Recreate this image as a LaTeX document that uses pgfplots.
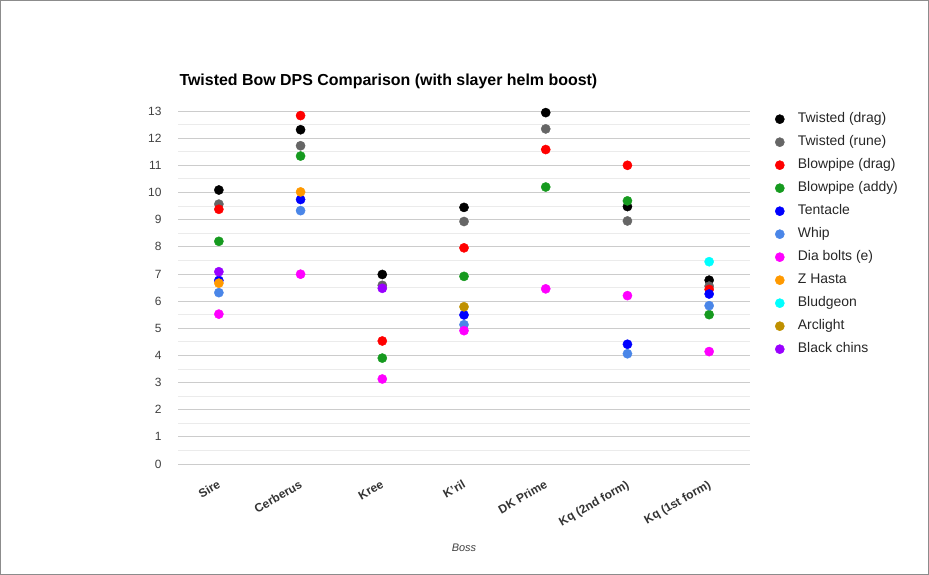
\documentclass[border=0pt]{standalone}
\usepackage{fontspec}
\setmainfont{Liberation Sans}
\usepackage{pgfplots}
\pgfplotsset{compat=1.18}
\definecolor{ctwd}{HTML}{000000}
\definecolor{ctwr}{HTML}{666666}
\definecolor{cbpd}{HTML}{FF0000}
\definecolor{cbpa}{HTML}{169A1F}
\definecolor{ctent}{HTML}{0000FF}
\definecolor{cwhip}{HTML}{4A86E8}
\definecolor{cdia}{HTML}{FF00FF}
\definecolor{czh}{HTML}{FF9900}
\definecolor{cblud}{HTML}{00FFFF}
\definecolor{carc}{HTML}{BF9000}
\definecolor{cchin}{HTML}{9900FF}
\begin{document}
\begin{tikzpicture}[x=1bp,y=1bp]
\path[use as bounding box] (0,0) rectangle (929,575);
\draw[color=black!45, line width=1bp] (0.5,0.5) rectangle (928.5,574.5);
\begin{axis}[
  at={(178bp,111bp)}, anchor=south west,
  scale only axis, width=572bp, height=353bp,
  xmin=-0.5, xmax=6.5, ymin=0, ymax=13,
  xtick={0,1,2,3,4,5,6},
  xticklabels={Sire,Cerberus,Kree,K'ril,DK Prime,Kq (2nd form),Kq (1st form)},
  ytick={0,1,...,13},
  minor y tick num=1,
  ymajorgrids, yminorgrids,
  major grid style={color=black!20, line width=0.8bp},
  minor grid style={color=black!8, line width=0.8bp},
  axis line style={draw=none},
  major tick length=0pt, minor tick length=0pt,
  /pgf/number format/assume math mode=true,
  yticklabel style={font=\fontsize{12}{14}\selectfont, text=black!75, xshift=-13bp},
  xticklabel style={font=\bfseries\fontsize{12}{14}\selectfont, text=black!80, rotate=30, anchor=north east, xshift=-6bp, yshift=-9bp},
  extra y ticks={0}, extra y tick labels={},
  extra y tick style={grid style={color=black!60, line width=1bp}},
  xlabel={Boss},
  xlabel style={font=\itshape\fontsize{11}{13}\selectfont, text=black!75, at={(axis description cs:0.5,0)}, anchor=base, yshift=-88bp},
  title={Twisted Bow DPS Comparison (with slayer helm boost)},
  title style={font=\bfseries\fontsize{16}{18}\selectfont, at={(axis description cs:0,1)}, anchor=base west, xshift=-2bp, yshift=20bp},
  legend style={draw=none, fill=none, at={(axis description cs:1,1)}, anchor=north west, xshift=22bp, yshift=2bp,
    font=\fontsize{14}{16}\selectfont, text=black!85,
    nodes={inner sep=1.5bp, text height=10bp, text depth=3bp}, row sep=7bp, column sep=12bp},
  legend cell align=left,
  legend image code/.code={\draw[#1] plot coordinates {(4bp,0bp)};},
  every axis plot/.append style={only marks, mark=*, mark size=4.6bp},
]
\addplot[color=ctwd] coordinates {(0,10.09) (1,12.31) (2,6.98) (3,9.45) (4,12.94) (5,9.48) (6,6.77)};
\addlegendentry{Twisted (drag)}
\addplot[color=ctwr] coordinates {(0,9.57) (1,11.72) (2,6.58) (3,8.93) (4,12.34) (5,8.95) (6,6.55)};
\addlegendentry{Twisted (rune)}
\addplot[color=cbpd] coordinates {(0,9.38) (1,12.83) (2,4.53) (3,7.96) (4,11.58) (5,11.00) (6,6.43)};
\addlegendentry{Blowpipe (drag)}
\addplot[color=cbpa] coordinates {(0,8.20) (1,11.34) (2,3.90) (3,6.91) (4,10.20) (5,9.69) (6,5.50)};
\addlegendentry{Blowpipe (addy)}
\addplot[color=ctent] coordinates {(0,6.76) (1,9.74) (3,5.49) (5,4.41) (6,6.26)};
\addlegendentry{Tentacle}
\addplot[color=cwhip] coordinates {(0,6.31) (1,9.33) (3,5.13) (5,4.06) (6,5.83)};
\addlegendentry{Whip}
\addplot[color=cdia] coordinates {(0,5.52) (1,6.99) (2,3.13) (3,4.91) (4,6.45) (5,6.20) (6,4.14)};
\addlegendentry{Dia bolts (e)}
\addplot[color=czh] coordinates {(0,6.66) (1,10.02)};
\addlegendentry{Z Hasta}
\addplot[color=cblud] coordinates {(6,7.45)};
\addlegendentry{Bludgeon}
\addplot[color=carc] coordinates {(3,5.79)};
\addlegendentry{Arclight}
\addplot[color=cchin] coordinates {(0,7.08) (2,6.47)};
\addlegendentry{Black chins}
\end{axis}
\end{tikzpicture}
\end{document}
